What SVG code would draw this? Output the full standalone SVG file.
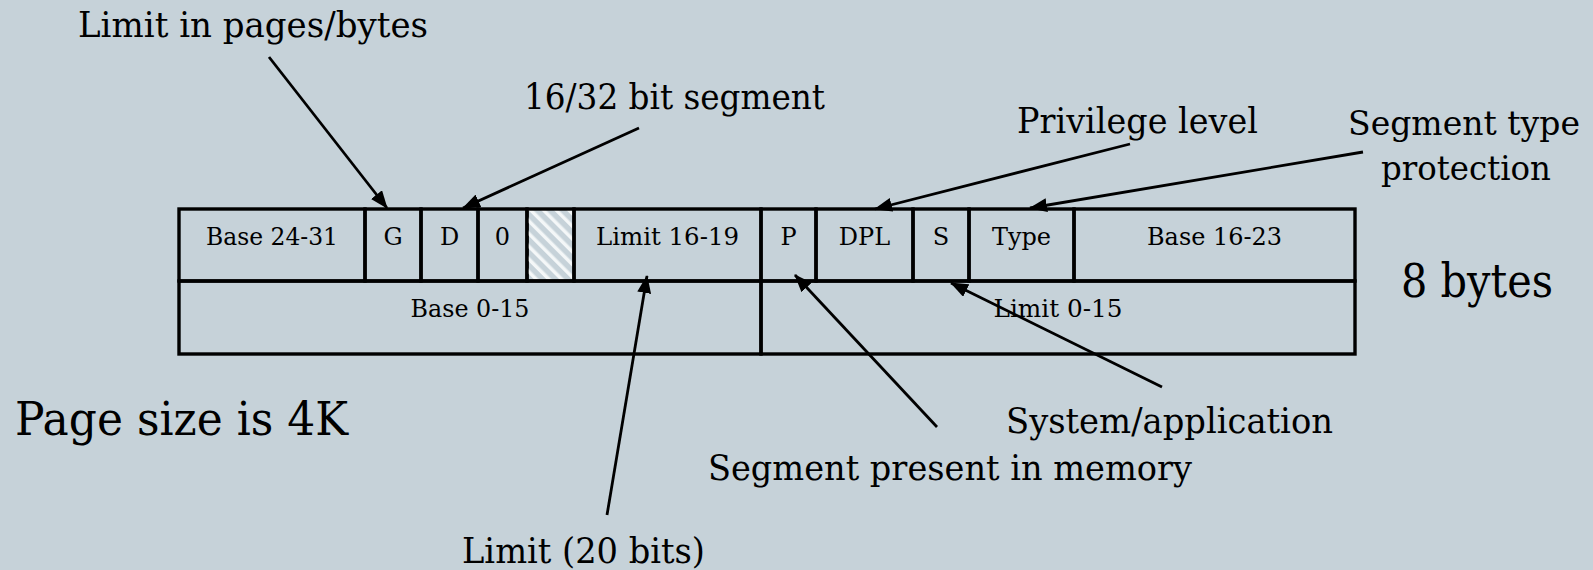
<svg xmlns="http://www.w3.org/2000/svg" width="1593" height="570" viewBox="0 0 1593 570">
  <defs>
    <style>
      .cell { fill: none; stroke: #000; stroke-width: 3.4; }
      .fld { font-family: "DejaVu Serif", "Liberation Serif", serif; font-size: 24px; fill: #000; text-anchor: middle; }
      .lbl { font-family: "DejaVu Serif", "Liberation Serif", serif; font-size: 36px; fill: #000; }
      .lbl.edge { font-size: 33.5px; }
      .big { font-family: "DejaVu Serif", "Liberation Serif", serif; font-size: 47px; fill: #000; }
      .conn { stroke: #000; stroke-width: 2.8; fill: none; marker-end: url(#head); }
    </style>
    <marker id="head" markerUnits="userSpaceOnUse" markerWidth="18" markerHeight="14" viewBox="0 0 18 14" refX="17" refY="7" orient="auto">
      <path d="M0,0 L18,7 L0,14 Z" fill="#000"/>
    </marker>
    <pattern id="hatch" patternUnits="userSpaceOnUse" width="9" height="9" patternTransform="rotate(-45)">
      <rect x="0" y="0" width="3.5" height="9" fill="#f4f7f8"/>
    </pattern>
  </defs>

  <rect width="1593" height="570" fill="#c6d2d9"/>

  <!-- descriptor, upper dword -->
  <g id="base-24-31"><rect class="cell" x="179" y="209" width="186" height="72"/><text class="fld" x="272" y="245" textLength="132" lengthAdjust="spacingAndGlyphs">Base 24-31</text></g>
  <g id="g-bit"><rect class="cell" x="365" y="209" width="56" height="72"/><text class="fld" x="393" y="245">G</text></g>
  <g id="d-bit"><rect class="cell" x="421" y="209" width="57" height="72"/><text class="fld" x="449.5" y="245">D</text></g>
  <g id="zero-bit"><rect class="cell" x="478" y="209" width="49" height="72"/><text class="fld" x="502.5" y="245">0</text></g>
  <g id="avl-bit"><rect x="527" y="209" width="47" height="72" fill="url(#hatch)"/><rect class="cell" x="527" y="209" width="47" height="72"/></g>
  <g id="limit-16-19"><rect class="cell" x="574" y="209" width="187" height="72"/><text class="fld" x="667.5" y="245" textLength="143" lengthAdjust="spacingAndGlyphs">Limit 16-19</text></g>
  <g id="p-bit"><rect class="cell" x="761" y="209" width="55" height="72"/><text class="fld" x="788.5" y="245">P</text></g>
  <g id="dpl"><rect class="cell" x="816" y="209" width="97" height="72"/><text class="fld" x="864.5" y="245">DPL</text></g>
  <g id="s-bit"><rect class="cell" x="913" y="209" width="56" height="72"/><text class="fld" x="941" y="245">S</text></g>
  <g id="type"><rect class="cell" x="969" y="209" width="105" height="72"/><text class="fld" x="1021.5" y="245">Type</text></g>
  <g id="base-16-23"><rect class="cell" x="1074" y="209" width="281" height="72"/><text class="fld" x="1214.5" y="245" textLength="135" lengthAdjust="spacingAndGlyphs">Base 16-23</text></g>

  <!-- descriptor, lower dword -->
  <g id="base-0-15"><rect class="cell" x="179" y="281" width="582" height="73"/><text class="fld" x="470" y="317" textLength="119" lengthAdjust="spacingAndGlyphs">Base 0-15</text></g>
  <g id="limit-0-15"><rect class="cell" x="761" y="281" width="594" height="73"/><text class="fld" x="1058" y="317" textLength="129" lengthAdjust="spacingAndGlyphs">Limit 0-15</text></g>

  <!-- annotations -->
  <g id="lbl-granularity"><text class="lbl" x="78" y="37" textLength="350" lengthAdjust="spacingAndGlyphs">Limit in pages/bytes</text></g>
  <g id="lbl-size"><text class="lbl" x="524" y="109" textLength="301" lengthAdjust="spacingAndGlyphs">16/32 bit segment</text></g>
  <g id="lbl-privilege"><text class="lbl" x="1017" y="133" textLength="241" lengthAdjust="spacingAndGlyphs">Privilege level</text></g>
  <g id="lbl-type"><text class="lbl edge" x="1348" y="135" textLength="232" lengthAdjust="spacingAndGlyphs">Segment type</text><text class="lbl edge" x="1381" y="180" textLength="170" lengthAdjust="spacingAndGlyphs">protection</text></g>
  <g id="lbl-bytes"><text class="big" x="1401" y="297" textLength="152" lengthAdjust="spacingAndGlyphs">8 bytes</text></g>
  <g id="lbl-page"><text class="big" x="15" y="435" textLength="333" lengthAdjust="spacingAndGlyphs">Page size is 4K</text></g>
  <g id="lbl-system"><text class="lbl" x="1006" y="433" textLength="327" lengthAdjust="spacingAndGlyphs">System/application</text></g>
  <g id="lbl-present"><text class="lbl" x="708" y="480" textLength="484" lengthAdjust="spacingAndGlyphs">Segment present in memory</text></g>
  <g id="lbl-limit"><text class="lbl" x="462" y="563" textLength="243" lengthAdjust="spacingAndGlyphs">Limit (20 bits)</text></g>

  <g id="connectors">
    <line class="conn" x1="269" y1="57" x2="387" y2="208"/>
    <line class="conn" x1="639" y1="128" x2="463" y2="208"/>
    <line class="conn" x1="1130" y1="144" x2="875" y2="209"/>
    <line class="conn" x1="1363" y1="152" x2="1030" y2="208"/>
    <line class="conn" x1="607" y1="515" x2="647" y2="276"/>
    <line class="conn" x1="937" y1="427" x2="795" y2="275"/>
    <line class="conn" x1="1162" y1="387" x2="951" y2="283"/>
  </g>
</svg>
